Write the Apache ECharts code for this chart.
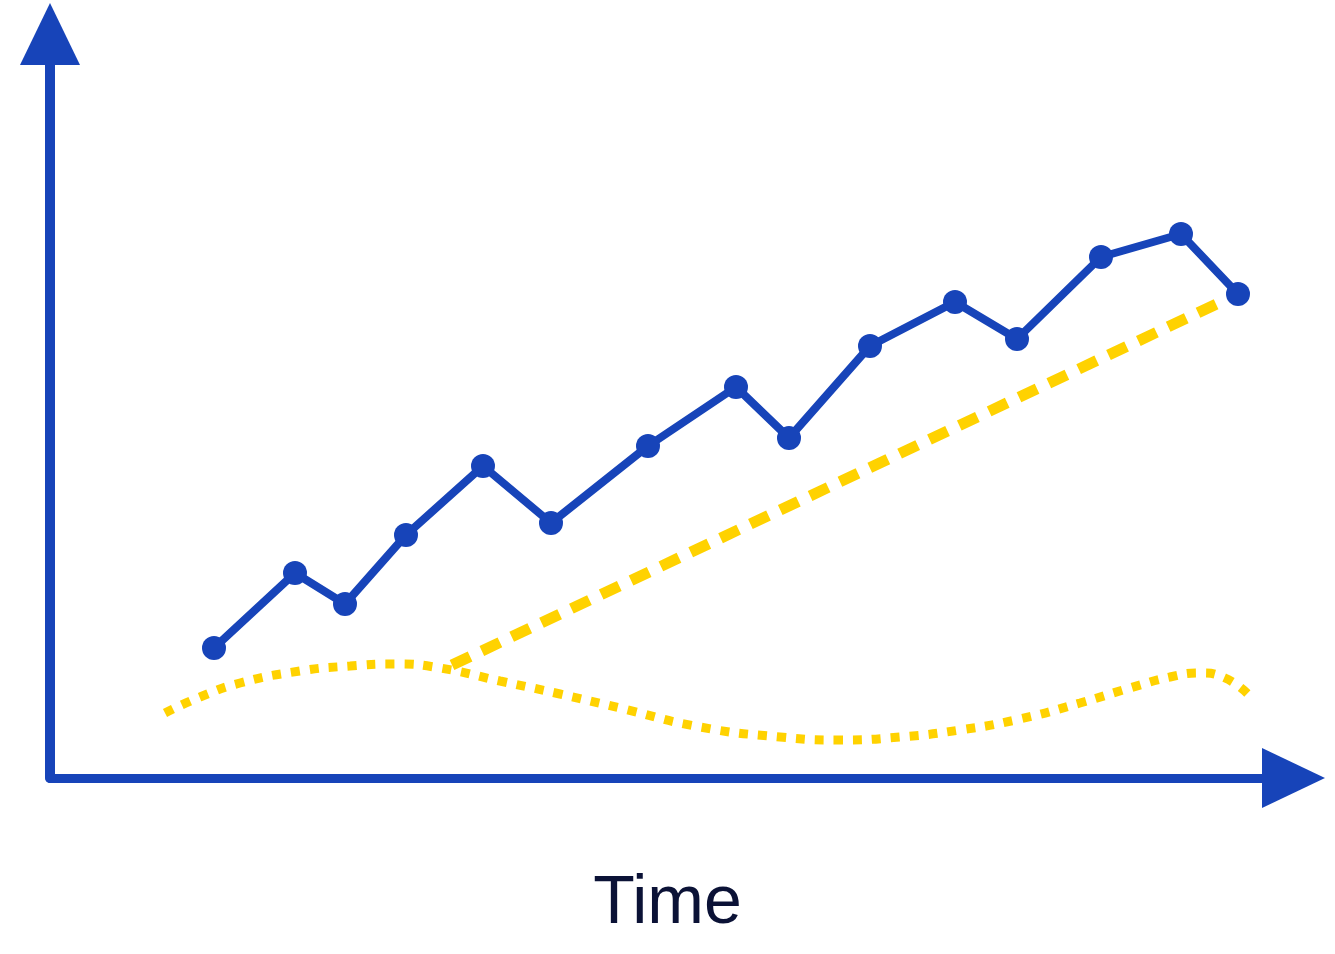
<!DOCTYPE html>
<html>
<head>
<meta charset="utf-8">
<script src="https://cdn.jsdelivr.net/npm/echarts@6/dist/echarts.min.js"></script>
<style>
  html, body { margin: 0; padding: 0; background: #fff; }
  #main { width: 1335px; height: 954px; }
</style>
</head>
<body>
<div id="main"></div>
<script>
// measured values, in axis units (origin at the corner of the axes)
let trendX = [164, 245, 295, 356, 433, 501, 598, 686, 739, 820, 905, 967, 1051, 1131, 1188];
let trendY = [130, 205, 174, 243, 312, 255, 332, 391, 340, 432, 476, 439, 521, 544, 484];

let fitX = [402, 1175];
let fitY = [113, 478];

let waveX = [115, 150, 190, 250, 300, 345, 390, 450, 510, 570, 650, 730, 790, 850, 910, 970, 1030, 1080, 1120, 1150, 1175, 1198];
let waveY = [65, 81, 95, 107, 112, 114, 110, 97, 84, 70, 51, 41, 38, 41, 48, 59, 75, 90, 101, 105, 100, 84];

const blue = '#1744b9';
const yellow = '#ffd200';

let pairs = function(xs, ys){
    return xs.map((x, i) => [x, ys[i]]);
}

var myChart = echarts.init(document.getElementById('main'));
var option = {
    backgroundColor: '#fff',
    animation: false,
    title: {
        text: 'Time',
        left: 'center',
        top: 865,
        textStyle: {
            fontFamily: 'Liberation Sans',
            fontSize: 68,
            fontWeight: 'normal',
            color: '#0b1236'
        }
    },
    grid: {
        left: 50,
        right: 41.5,
        top: 34,
        bottom: 176
    },
    xAxis: {
        type: 'value',
        min: 0,
        max: 1243.5,
        axisLine: {
            show: true,
            symbol: ['none', 'triangle'],
            symbolSize: [60, 63],
            lineStyle: { color: blue, width: 9 }
        },
        axisTick: { show: false },
        axisLabel: { show: false },
        splitLine: { show: false }
    },
    yAxis: {
        type: 'value',
        min: 0,
        max: 744,
        axisLine: {
            show: true,
            symbol: ['none', 'triangle'],
            symbolSize: [60, 62],
            lineStyle: { color: blue, width: 10 }
        },
        axisTick: { show: false },
        axisLabel: { show: false },
        splitLine: { show: false }
    },
    series: [
        {
            name: 'wave',
            type: 'line',
            smooth: true,
            showSymbol: false,
            data: pairs(waveX, waveY),
            lineStyle: { color: yellow, width: 9, type: [9, 10], cap: 'butt' },
            z: 2
        },
        {
            name: 'fit',
            type: 'line',
            showSymbol: false,
            data: pairs(fitX, fitY),
            lineStyle: { color: yellow, width: 11, type: [20, 13], cap: 'butt' },
            z: 3
        },
        {
            name: 'trend',
            type: 'line',
            data: pairs(trendX, trendY),
            symbol: 'circle',
            symbolSize: 24,
            itemStyle: { color: blue },
            lineStyle: { color: blue, width: 8 },
            z: 4
        }
    ]
};
myChart.setOption(option);
</script>
</body>
</html>
